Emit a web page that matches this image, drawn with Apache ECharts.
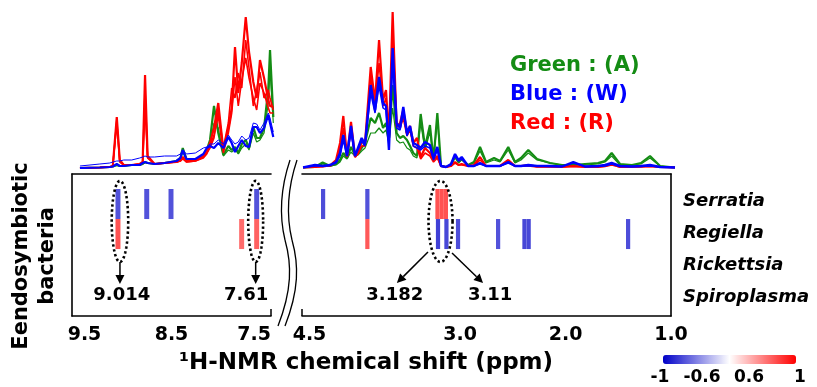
<!DOCTYPE html>
<html>
<head>
<meta charset="utf-8">
<script src="https://cdn.jsdelivr.net/npm/echarts@6/dist/echarts.min.js"></script>
<style>
  html, body { margin: 0; padding: 0; background: #fff; }
  #nmrChart { width: 817px; height: 387px; }
</style>
</head>
<body>
<div id="nmrChart"></div>
<script>
  // chemical shift points (ppm) of the two spectrum windows
  const leftPpm = [9.42, 9.22, 9.12, 9.09, 9.05, 9.02, 8.98, 8.90, 8.82, 8.79, 8.766, 8.74, 8.67, 8.57, 8.45, 8.41, 8.387, 8.35, 8.26, 8.18,
    8.146, 8.113, 8.073, 8.03, 7.979, 7.929, 7.895, 7.862, 7.829, 7.794, 7.754, 7.721, 7.678, 7.644, 7.611, 7.57, 7.527, 7.51, 7.477];
  const rightPpm = [4.49, 4.377, 4.304, 4.234, 4.177, 4.139, 4.108, 4.073, 4.035, 3.997, 3.969, 3.934, 3.902, 3.848, 3.807, 3.769, 3.731, 3.703, 3.675, 3.640,
    3.602, 3.570, 3.539, 3.504, 3.475, 3.444, 3.409, 3.374, 3.333, 3.286, 3.252, 3.216, 3.181, 3.134, 3.086, 3.048, 3.015, 2.985, 2.925, 2.868,
    2.811, 2.754, 2.678, 2.621, 2.543, 2.479, 2.422, 2.353, 2.270, 2.147, 2.033, 1.926, 1.815, 1.692, 1.625, 1.562, 1.483, 1.369, 1.284, 1.198,
    1.103, 0.961];

  // left window (9.5 - 7.5 ppm) intensities
  const leftRedA = [0, 0.5, 1, 2, 51, 8, 3, 3, 4, 6, 93, 12, 4, 5, 6, 8, 11, 7, 8, 12, 16, 25, 40, 65, 18, 40, 60, 121, 75, 105, 151, 116, 86, 70, 108, 90, 68, 62, 61];
  const leftRedB = [0, 0.5, 1, 2, 45, 6, 3, 3, 4, 5, 61, 10, 4, 5, 6, 7, 9, 6, 7, 10, 14, 22, 33, 52, 15, 35, 55, 91, 62, 88, 110, 90, 70, 58, 85, 75, 60, 55, 55];
  const leftRedC = [0, 0.5, 1, 2, 48, 7, 3, 3, 4, 5, 78, 10, 4, 5, 6, 7, 10, 6, 7, 11, 15, 20, 30, 58, 20, 45, 80, 70, 95, 80, 128, 100, 62, 78, 96, 70, 78, 70, 58];
  const leftGreenA = [0, 0.5, 1, 1.5, 3, 2, 2, 3, 3, 4, 6, 5, 4, 5, 7, 10, 20, 9, 8, 12, 18, 28, 62, 35, 13, 22, 18, 21, 15, 24, 28, 20, 41, 30, 30, 40, 80, 118, 51];
  const leftGreenB = [0, 0.5, 1, 1.5, 2.5, 2, 2, 3, 3, 4, 5, 5, 4, 5, 6, 9, 16, 8, 8, 11, 16, 24, 45, 40, 12, 18, 16, 19, 14, 20, 24, 18, 35, 26, 28, 35, 65, 98, 45];
  const leftBlueA = [0, 0.5, 1, 1.5, 4, 2, 2, 3, 3, 5, 6, 5, 4, 5, 7, 10, 18, 9, 9, 14, 20, 22, 20, 25, 20, 31, 25, 16, 22, 28, 22, 21, 41, 41, 35, 40, 53, 45, 31];
  const leftBlueB = [2, 4, 5, 6, 7, 7, 8, 8, 10, 11, 12, 11, 11, 12, 12, 14, 18, 14, 15, 20, 21, 24, 24, 28, 24, 33, 28, 24, 26, 32, 28, 30, 45, 44, 38, 45, 55, 50, 36];

  // right window (4.5 - 1.0 ppm) intensities
  const rightRedA = [0.5, 1, 1.5, 2.5, 8, 25, 52, 11, 46, 11, 15, 26, 25, 101, 66, 128, 68, 78, 30, 156,
    41, 45, 58, 35, 42, 25, 30, 11, 20, 15, 8, 12, 2, 1, 2, 6, 3, 4, 2, 3,
    11, 2, 2, 2, 8, 2, 2, 3, 1.5, 1.5, 1, 2, 1, 1, 2, 4, 1, 1, 1.5, 2, 1, 0.5];
  const rightRedB = [0.5, 1, 1.5, 2, 6, 20, 40, 11, 38, 11, 14, 22, 22, 91, 62, 105, 62, 70, 25, 130,
    45, 40, 50, 32, 38, 22, 20, 9, 15, 12, 6, 10, 2, 1, 2, 5, 3, 3, 2, 2,
    8, 2, 2, 2, 6, 2, 2, 2, 1, 1, 1, 1.5, 1, 1, 1.5, 3, 1, 1, 1, 1.5, 1, 0.5];
  const rightBlueA = [0.5, 3, 2, 3, 6, 15, 33, 12, 42, 12, 20, 30, 24, 83, 58, 91, 65, 62, 18, 120,
    45, 40, 61, 35, 42, 25, 23, 20, 26, 23, 10, 21, 2, 1, 4, 14, 8, 11, 2, 2,
    5, 2, 2, 2, 6, 2, 2, 3, 2, 2, 1.5, 6, 1.5, 2, 3, 5, 2, 1.5, 2, 3, 1, 0.5];
  const rightBlueB = [0.5, 2, 2, 2.5, 5, 12, 28, 12, 35, 12, 18, 27, 22, 75, 55, 82, 60, 58, 22, 105,
    40, 38, 55, 32, 40, 22, 20, 18, 22, 20, 8, 18, 2, 1, 3, 12, 7, 9, 2, 2,
    4, 2, 2, 2, 5, 2, 2, 2, 2, 1.5, 1.5, 5, 1.5, 1.5, 2, 4, 1.5, 1.5, 1.5, 2, 1, 0.5];
  const rightGreenA = [0.5, 1, 5.5, 2, 4, 8, 15, 10, 21, 13, 14, 20, 25, 50, 45, 55, 40, 45, 30, 83,
    35, 30, 32, 28, 22, 15, 12, 54, 21, 43, 8, 55, 2, 1, 3, 12, 6, 9, 3, 6,
    21, 6, 10, 7, 21, 6, 10, 18, 9, 5, 3, 3, 4, 5, 7, 15, 4, 3, 5, 12, 2, 0.5];
  const rightGreenB = [0.5, 1, 4, 2, 3, 6, 12, 9, 16, 12, 13, 17, 20, 35, 35, 40, 35, 38, 25, 60,
    28, 25, 26, 20, 18, 12, 10, 45, 18, 36, 7, 48, 2, 1, 3, 10, 5, 8, 3, 5,
    17, 5, 8, 6, 18, 5, 8, 15, 8, 5, 3, 3, 3, 4, 6, 12, 3, 3, 4, 10, 2, 0.5];

  // correlation cells: [ppm, row, r]
  const bacteria = ['Serratia', 'Regiella', 'Rickettsia', 'Spiroplasma'];
  const leftCells = [[9.038, 0, -0.68], [9.038, 1, 0.68], [8.749, 0, -0.68], [8.505, 0, -0.68],
    [7.795, 1, 0.58], [7.644, 0, -0.68], [7.644, 1, 0.62]];
  const rightCells = [[4.30, 0, -0.7], [3.88, 0, -0.68], [3.88, 1, 0.65], [3.215, 0, 0.68], [3.175, 0, 0.68], [3.135, 0, 0.68],
    [3.21, 1, -0.75], [3.13, 1, -0.72], [3.02, 1, -0.7], [2.64, 1, -0.68], [2.39, 1, -0.72], [2.35, 1, -0.72], [1.407, 1, -0.7]];

  // annotations
  const leftOvals = [[9.018, 0.083], [7.654, 0.075]];
  const rightOvals = [[3.186, 0.114]];
  const leftArrows = [[9.018, 1.93, 9.018, 2.66], [7.654, 1.93, 7.654, 2.66]];
  const rightArrows = [[3.305, 1.6, 3.60, 2.63], [3.077, 1.63, 2.783, 2.63]];
  const leftNotes = [[9.0, '9.014'], [7.75, '7.61']];
  const rightNotes = [[3.62, '3.182'], [2.716, '3.11']];

  const leftTicks = ['9.5', '8.5', '7.5'];
  const rightTicks = ['4.5', '3.0', '2.0', '1.0'];
  const colorbarTicks = ['-1', '-0.6', '0.6', '1'];

  const GREEN = '#148c14', BLUE = '#0000ff', RED = '#ff0000';
  const FONT = '"DejaVu Sans"';

  function trace(name, idx, ppm, vals, color, width) {
    return {
      name: name, type: 'line', xAxisIndex: idx, yAxisIndex: idx,
      data: ppm.map((p, i) => [p, vals[i]]),
      symbol: 'none', silent: true,
      lineStyle: { color: color, width: width },
      itemStyle: { color: color }
    };
  }

  // axes of the two heat panels: [xAxisIndex, yAxisIndex]
  const HEAT_L = [2, 2], HEAT_R = [4, 3];

  function cellSeries(ax, cells, bin) {
    return {
      type: 'custom', xAxisIndex: ax[0], yAxisIndex: ax[1], data: cells, silent: true,
      renderItem: function (params, api) {
        var x = api.value(0), r = api.value(1);
        var a = api.coord([x + bin / 2, r - 0.5]);
        var b = api.coord([x - bin / 2, r + 0.5]);
        return {
          type: 'rect',
          shape: { x: Math.min(a[0], b[0]), y: Math.min(a[1], b[1]), width: Math.abs(b[0] - a[0]), height: Math.abs(b[1] - a[1]) },
          style: { fill: api.visual('color') }
        };
      }
    };
  }

  // dotted ovals drawn as a closed polygon around a column
  function ovalSeries(ax, ovals) {
    return {
      type: 'custom', xAxisIndex: ax[0], yAxisIndex: ax[1], data: ovals, silent: true,
      renderItem: function (params, api) {
        var c = api.coord([api.value(0), 0.58]);
        var e = api.coord([api.value(0) - api.value(1), 0.58 + 1.35]);
        var rx = Math.abs(e[0] - c[0]), ry = Math.abs(e[1] - c[1]);
        var pts = [];
        for (var k = 0; k < 72; k++) {
          var t = k / 72 * Math.PI * 2;
          pts.push([c[0] + rx * Math.cos(t), c[1] + ry * Math.sin(t)]);
        }
        return {
          type: 'polygon', shape: { points: pts },
          style: { fill: 'none', stroke: '#000', lineWidth: 2.6, lineDash: [2.4, 2.6] }
        };
      }
    };
  }

  function arrowSeries(ax, arrows) {
    return {
      type: 'custom', xAxisIndex: ax[0], yAxisIndex: ax[1], data: arrows, silent: true,
      renderItem: function (params, api) {
        var a = api.coord([api.value(0), api.value(1)]);
        var b = api.coord([api.value(2), api.value(3)]);
        var dx = b[0] - a[0], dy = b[1] - a[1], len = Math.sqrt(dx * dx + dy * dy);
        var ux = dx / len, uy = dy / len, h = 9, w = 4.5;
        var m = [b[0] - ux * h, b[1] - uy * h];
        return {
          type: 'group',
          children: [
            { type: 'line', shape: { x1: a[0], y1: a[1], x2: m[0], y2: m[1] }, style: { stroke: '#000', lineWidth: 1.5 } },
            { type: 'polygon', shape: { points: [b, [m[0] - uy * w, m[1] + ux * w], [m[0] + uy * w, m[1] - ux * w]] }, style: { fill: '#000' } }
          ]
        };
      }
    };
  }

  function noteSeries(ax, notes) {
    return {
      type: 'custom', xAxisIndex: ax[0], yAxisIndex: ax[1], data: notes.map(n => [n[0], 3.05]), silent: true,
      renderItem: function (params, api) {
        var p = api.coord([api.value(0), api.value(1)]);
        return {
          type: 'text', x: p[0], y: p[1],
          style: { text: notes[params.dataIndex][1], fill: '#000', font: 'bold 18px ' + FONT, align: 'center', verticalAlign: 'middle' }
        };
      }
    };
  }

  const tickFont = { color: '#000', fontFamily: FONT, fontWeight: 'bold', fontSize: 19 };
  const hiddenAxis = { axisLine: { show: false }, axisTick: { show: false }, axisLabel: { show: false }, splitLine: { show: false } };
  const frameLine = { show: true, onZero: false, lineStyle: { color: '#000', width: 1.6 } };
  const breakStyle = { fill: 'none', stroke: '#000', lineWidth: 1.3 };

  var myChart = echarts.init(document.getElementById('nmrChart'));

  myChart.setOption({
    animation: false,
    textStyle: { fontFamily: FONT },
    title: {
      text: '\u00B9H-NMR chemical shift (ppm)', left: 179, top: 352, padding: 0,
      textStyle: { color: '#000', fontFamily: FONT, fontWeight: 'bold', fontSize: 23 }
    },
    legend: {
      orient: 'vertical', left: 500, top: 50, icon: 'none', itemWidth: 0, itemHeight: 0, itemGap: 7,
      selectedMode: false,
      textStyle: { fontFamily: FONT, fontWeight: 'bold', fontSize: 21, lineHeight: 22 },
      data: [
        { name: 'Green : (A)', textStyle: { color: GREEN } },
        { name: 'Blue : (W)', textStyle: { color: BLUE } },
        { name: 'Red : (R)', textStyle: { color: RED } }
      ]
    },
    visualMap: {
      type: 'continuous', min: -1, max: 1, dimension: 2, seriesIndex: [14, 15],
      orient: 'horizontal', left: 663, top: 355, itemWidth: 9, itemHeight: 133, padding: 0,
      calculable: false, hoverLink: false,
      inRange: { color: ['#0000c8', '#ffffff', '#ff0000'] }
    },
    grid: [
      { left: 72, top: 8, width: 202, height: 160 },
      { left: 302, top: 8, width: 373, height: 160 },
      { left: 72, top: 174, width: 199, height: 142 },
      { left: 302, top: 174, width: 369, height: 142 },
      { left: 671, top: 185, width: 10, height: 128 }
    ],
    xAxis: [
      Object.assign({ type: 'value', gridIndex: 0, min: 7.47, max: 9.5, inverse: true }, hiddenAxis),
      Object.assign({ type: 'value', gridIndex: 1, min: 0.961, max: 4.5, inverse: true }, hiddenAxis),
      {
        type: 'value', gridIndex: 2, min: 7.5, max: 9.5, interval: 0.5, inverse: true, position: 'bottom',
        axisLine: frameLine, axisTick: { show: false }, splitLine: { show: false },
        axisLabel: Object.assign({
          margin: 10, alignMinLabel: 'right', showMinLabel: true, showMaxLabel: true,
          formatter: function (v) {
            var s = v.toFixed(1);
            if (leftTicks.indexOf(s) < 0) return '';
            return s === '9.5' ? '{lead|' + s + '}' : s;
          },
          rich: { lead: Object.assign({ padding: [0, 0, 0, 25] }, tickFont) }
        }, tickFont)
      },
      Object.assign({ type: 'value', gridIndex: 2, min: 7.5, max: 9.5, inverse: true, position: 'top' }, hiddenAxis, { axisLine: frameLine }),
      {
        type: 'value', gridIndex: 3, min: 1.0, max: 4.5, interval: 0.5, inverse: true, position: 'bottom',
        axisLine: frameLine, axisTick: { show: false }, splitLine: { show: false },
        axisLabel: Object.assign({
          margin: 10, showMinLabel: true, showMaxLabel: true,
          formatter: function (v) {
            var s = v.toFixed(1);
            if (rightTicks.indexOf(s) < 0) return '';
            return s === '4.5' ? '{lead|' + s + '}' : s;
          },
          rich: { lead: Object.assign({ padding: [0, 0, 0, 15] }, tickFont) }
        }, tickFont)
      },
      Object.assign({ type: 'value', gridIndex: 3, min: 1.0, max: 4.5, inverse: true, position: 'top' }, hiddenAxis, { axisLine: frameLine }),
      Object.assign({ type: 'value', gridIndex: 4, show: false }, hiddenAxis)
    ],
    yAxis: [
      Object.assign({ type: 'value', gridIndex: 0, min: 0, max: 160 }, hiddenAxis),
      Object.assign({ type: 'value', gridIndex: 1, min: 0, max: 160 }, hiddenAxis),
      Object.assign({ type: 'value', gridIndex: 2, min: -1, max: 3.73, inverse: true, position: 'left' }, hiddenAxis, { axisLine: frameLine }),
      Object.assign({ type: 'value', gridIndex: 3, min: -1, max: 3.73, inverse: true, position: 'right' }, hiddenAxis, { axisLine: frameLine }),
      {
        type: 'category', gridIndex: 4, data: bacteria, inverse: true, position: 'right',
        axisLine: { show: false }, axisTick: { show: false }, splitLine: { show: false },
        axisLabel: { margin: 2, align: 'left', color: '#000', fontFamily: FONT, fontWeight: 'bold', fontStyle: 'italic', fontSize: 18 }
      }
    ],
    series: [
      trace('Green : (A)', 0, leftPpm, leftGreenB, GREEN, 1.2),
      trace('Green : (A)', 0, leftPpm, leftGreenA, GREEN, 2.2),
      trace('Red : (R)', 0, leftPpm, leftRedB, RED, 1.6),
      trace('Red : (R)', 0, leftPpm, leftRedC, RED, 1.6),
      trace('Red : (R)', 0, leftPpm, leftRedA, RED, 2.2),
      trace('Blue : (W)', 0, leftPpm, leftBlueB, BLUE, 1),
      trace('Blue : (W)', 0, leftPpm, leftBlueA, BLUE, 2.2),
      trace('Green : (A)', 1, rightPpm, rightGreenB, GREEN, 1.2),
      trace('Green : (A)', 1, rightPpm, rightGreenA, GREEN, 2.2),
      trace('Red : (R)', 1, rightPpm, rightRedB, RED, 1.6),
      trace('Red : (R)', 1, rightPpm, rightRedA, RED, 2.2),
      trace('Blue : (W)', 1, rightPpm, rightBlueB, BLUE, 1.5),
      trace('Blue : (W)', 1, rightPpm, rightBlueA, BLUE, 2.4),
      { type: 'line', xAxisIndex: 6, yAxisIndex: 4, data: [], silent: true },
      cellSeries(HEAT_L, leftCells, 0.05),
      cellSeries(HEAT_R, rightCells, 0.04),
      ovalSeries(HEAT_L, leftOvals),
      ovalSeries(HEAT_R, rightOvals),
      arrowSeries(HEAT_L, leftArrows),
      arrowSeries(HEAT_R, rightArrows),
      noteSeries(HEAT_L, leftNotes),
      noteSeries(HEAT_R, rightNotes)
    ],
    graphic: [
      // axis break marks
      { type: 'bezierCurve', shape: { x1: 290, y1: 160, cpx1: 280, cpy1: 190, cpx2: 279, cpy2: 215, x2: 285, y2: 240 }, style: breakStyle },
      { type: 'bezierCurve', shape: { x1: 285, y1: 240, cpx1: 292, cpy1: 265, cpx2: 292, cpy2: 290, x2: 278, y2: 326 }, style: breakStyle },
      { type: 'bezierCurve', shape: { x1: 297, y1: 160, cpx1: 287, cpy1: 190, cpx2: 286, cpy2: 215, x2: 292, y2: 240 }, style: breakStyle },
      { type: 'bezierCurve', shape: { x1: 292, y1: 240, cpx1: 299, cpy1: 265, cpx2: 299, cpy2: 290, x2: 285, y2: 326 }, style: breakStyle },
      { type: 'line', shape: { x1: 271, y1: 309, x2: 271, y2: 316 }, style: { stroke: '#000', lineWidth: 1.5 } },
      { type: 'line', shape: { x1: 302, y1: 309, x2: 302, y2: 316 }, style: { stroke: '#000', lineWidth: 1.5 } },
      {
        type: 'text', x: 35, y: 256, rotation: Math.PI / 2,
        style: { text: 'Eendosymbiotic\nbacteria', fill: '#000', font: 'bold 21px ' + FONT, align: 'center', verticalAlign: 'middle', lineHeight: 26 }
      },
      { type: 'text', x: 660, y: 378, style: { text: colorbarTicks[0], fill: '#000', font: 'bold 17px ' + FONT, align: 'center', verticalAlign: 'middle' } },
      { type: 'text', x: 702, y: 378, style: { text: colorbarTicks[1], fill: '#000', font: 'bold 17px ' + FONT, align: 'center', verticalAlign: 'middle' } },
      { type: 'text', x: 749, y: 378, style: { text: colorbarTicks[2], fill: '#000', font: 'bold 17px ' + FONT, align: 'center', verticalAlign: 'middle' } },
      { type: 'text', x: 800, y: 378, style: { text: colorbarTicks[3], fill: '#000', font: 'bold 17px ' + FONT, align: 'center', verticalAlign: 'middle' } }
    ]
  });

  window.addEventListener('resize', function () {
    myChart.resize();
  });
</script>
</body>
</html>
